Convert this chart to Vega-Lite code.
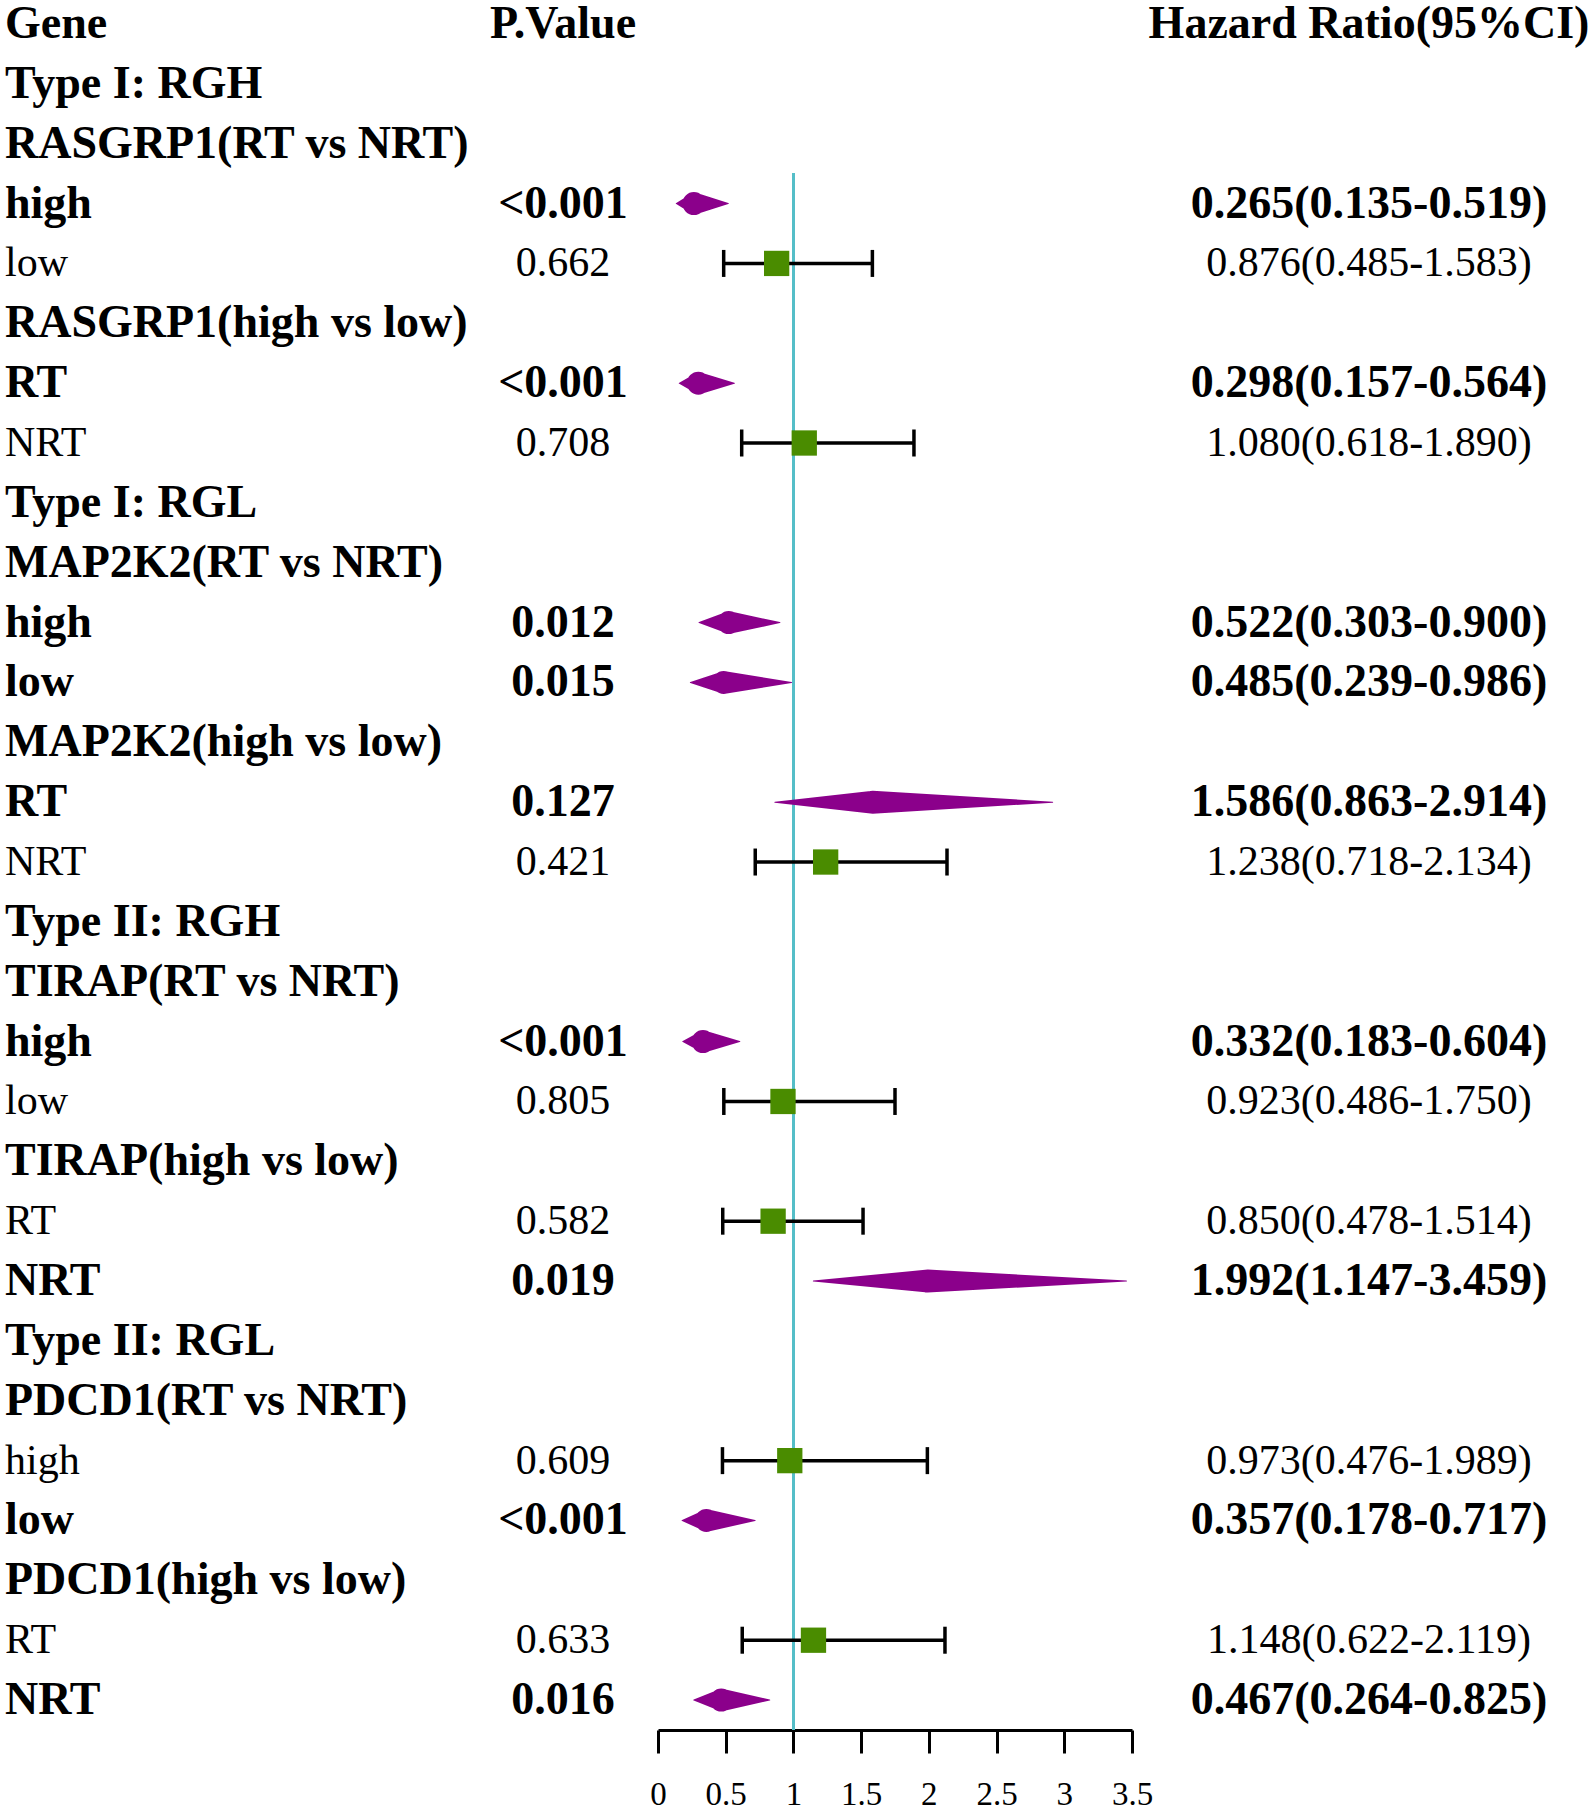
{
  "$schema": "https://vega.github.io/schema/vega-lite/v6.json",
  "padding": 0,
  "spacing": 0,
  "bounds": "flush",
  "background": "white",
  "config": {"view": {"stroke": null}, "font": "Liberation Serif"},
  "data": {"values": [
    {"row": 0, "gene": "Gene", "p": "P.Value", "hr": "Hazard Ratio(95%CI)", "kind": "header", "hl": true},
    {"row": 1, "gene": "Type I: RGH", "kind": "group", "hl": true},
    {"row": 2, "gene": "RASGRP1(RT vs NRT)", "kind": "gene", "hl": true},
    {"row": 3, "gene": "high", "p": "<0.001", "hr": "0.265(0.135-0.519)", "est": 0.265, "lo": 0.135, "hi": 0.519, "kind": "sub", "hl": true},
    {"row": 4, "gene": "low", "p": "0.662", "hr": "0.876(0.485-1.583)", "est": 0.876, "lo": 0.485, "hi": 1.583, "kind": "sub", "hl": false},
    {"row": 5, "gene": "RASGRP1(high vs low)", "kind": "gene", "hl": true},
    {"row": 6, "gene": "RT", "p": "<0.001", "hr": "0.298(0.157-0.564)", "est": 0.298, "lo": 0.157, "hi": 0.564, "kind": "sub", "hl": true},
    {"row": 7, "gene": "NRT", "p": "0.708", "hr": "1.080(0.618-1.890)", "est": 1.080, "lo": 0.618, "hi": 1.890, "kind": "sub", "hl": false},
    {"row": 8, "gene": "Type I: RGL", "kind": "group", "hl": true},
    {"row": 9, "gene": "MAP2K2(RT vs NRT)", "kind": "gene", "hl": true},
    {"row": 10, "gene": "high", "p": "0.012", "hr": "0.522(0.303-0.900)", "est": 0.522, "lo": 0.303, "hi": 0.900, "kind": "sub", "hl": true},
    {"row": 11, "gene": "low", "p": "0.015", "hr": "0.485(0.239-0.986)", "est": 0.485, "lo": 0.239, "hi": 0.986, "kind": "sub", "hl": true},
    {"row": 12, "gene": "MAP2K2(high vs low)", "kind": "gene", "hl": true},
    {"row": 13, "gene": "RT", "p": "0.127", "hr": "1.586(0.863-2.914)", "est": 1.586, "lo": 0.863, "hi": 2.914, "kind": "sub", "hl": true},
    {"row": 14, "gene": "NRT", "p": "0.421", "hr": "1.238(0.718-2.134)", "est": 1.238, "lo": 0.718, "hi": 2.134, "kind": "sub", "hl": false},
    {"row": 15, "gene": "Type II: RGH", "kind": "group", "hl": true},
    {"row": 16, "gene": "TIRAP(RT vs NRT)", "kind": "gene", "hl": true},
    {"row": 17, "gene": "high", "p": "<0.001", "hr": "0.332(0.183-0.604)", "est": 0.332, "lo": 0.183, "hi": 0.604, "kind": "sub", "hl": true},
    {"row": 18, "gene": "low", "p": "0.805", "hr": "0.923(0.486-1.750)", "est": 0.923, "lo": 0.486, "hi": 1.750, "kind": "sub", "hl": false},
    {"row": 19, "gene": "TIRAP(high vs low)", "kind": "gene", "hl": true},
    {"row": 20, "gene": "RT", "p": "0.582", "hr": "0.850(0.478-1.514)", "est": 0.850, "lo": 0.478, "hi": 1.514, "kind": "sub", "hl": false},
    {"row": 21, "gene": "NRT", "p": "0.019", "hr": "1.992(1.147-3.459)", "est": 1.992, "lo": 1.147, "hi": 3.459, "kind": "sub", "hl": true},
    {"row": 22, "gene": "Type II: RGL", "kind": "group", "hl": true},
    {"row": 23, "gene": "PDCD1(RT vs NRT)", "kind": "gene", "hl": true},
    {"row": 24, "gene": "high", "p": "0.609", "hr": "0.973(0.476-1.989)", "est": 0.973, "lo": 0.476, "hi": 1.989, "kind": "sub", "hl": false},
    {"row": 25, "gene": "low", "p": "<0.001", "hr": "0.357(0.178-0.717)", "est": 0.357, "lo": 0.178, "hi": 0.717, "kind": "sub", "hl": true},
    {"row": 26, "gene": "PDCD1(high vs low)", "kind": "gene", "hl": true},
    {"row": 27, "gene": "RT", "p": "0.633", "hr": "1.148(0.622-2.119)", "est": 1.148, "lo": 0.622, "hi": 2.119, "kind": "sub", "hl": false},
    {"row": 28, "gene": "NRT", "p": "0.016", "hr": "0.467(0.264-0.825)", "est": 0.467, "lo": 0.264, "hi": 0.825, "kind": "sub", "hl": true}
  ]},
  "hconcat": [
    {
      "width": 468, "height": 1729,
      "layer": [
        {
          "transform": [{"filter": "datum.hl"}],
          "mark": {"type": "text", "align": "left", "baseline": "middle", "fontWeight": "bold", "fontSize": 46, "dx": 5, "color": "black", "font": "Liberation Serif"},
          "encoding": {
            "x": {"datum": 0, "type": "quantitative", "scale": {"domain": [0, 1]}, "axis": null},
            "y": {"field": "row", "type": "quantitative", "scale": {"domain": [-0.384, 28.5], "reverse": true, "nice": false, "zero": false}, "axis": null},
            "text": {"field": "gene"}
          }
        },
        {
          "transform": [{"filter": "!datum.hl"}],
          "mark": {"type": "text", "align": "left", "baseline": "middle", "fontWeight": "normal", "fontSize": 42, "dx": 5, "color": "black", "font": "Liberation Serif"},
          "encoding": {
            "x": {"datum": 0, "type": "quantitative", "scale": {"domain": [0, 1]}, "axis": null},
            "y": {"field": "row", "type": "quantitative", "scale": {"domain": [-0.384, 28.5], "reverse": true, "nice": false, "zero": false}, "axis": null},
            "text": {"field": "gene"}
          }
        }
      ]
    },
    {
      "width": 190, "height": 1729,
      "layer": [
        {
          "transform": [{"filter": "isValid(datum.p) && datum.hl"}],
          "mark": {"type": "text", "align": "center", "baseline": "middle", "fontWeight": "bold", "fontSize": 46, "color": "black", "font": "Liberation Serif"},
          "encoding": {
            "x": {"datum": 0.5, "type": "quantitative", "scale": {"domain": [0, 1]}, "axis": null},
            "y": {"field": "row", "type": "quantitative", "scale": {"domain": [-0.384, 28.5], "reverse": true, "nice": false, "zero": false}, "axis": null},
            "text": {"field": "p"}
          }
        },
        {
          "transform": [{"filter": "isValid(datum.p) && !datum.hl"}],
          "mark": {"type": "text", "align": "center", "baseline": "middle", "fontWeight": "normal", "fontSize": 42, "color": "black", "font": "Liberation Serif"},
          "encoding": {
            "x": {"datum": 0.5, "type": "quantitative", "scale": {"domain": [0, 1]}, "axis": null},
            "y": {"field": "row", "type": "quantitative", "scale": {"domain": [-0.384, 28.5], "reverse": true, "nice": false, "zero": false}, "axis": null},
            "text": {"field": "p"}
          }
        }
      ]
    },
    {
      "width": 474, "height": 1729,
      "layer": [
        {
          "mark": {"type": "rule", "color": "#55BEC8", "strokeWidth": 2.5},
          "encoding": {
            "x": {"datum": 1, "type": "quantitative", "scale": {"domain": [0, 3.5], "nice": false, "zero": false},
              "axis": {"values": [0, 0.5, 1, 1.5, 2, 2.5, 3, 3.5], "format": "~g", "title": null, "grid": false,
                "domainColor": "black", "domainWidth": 3, "tickColor": "black", "tickWidth": 3, "tickSize": 23,
                "labelFont": "Liberation Serif", "labelFontSize": 33, "labelColor": "black", "labelPadding": 25,
                "labelFlush": false, "labelOverlap": false, "labelBound": false}},
            "y": {"datum": 2.5, "type": "quantitative", "scale": {"domain": [-0.384, 28.5], "reverse": true, "nice": false, "zero": false}, "axis": null},
            "y2": {"datum": 28.5}
          }
        },
        {
          "transform": [{"filter": "datum.kind == 'sub' && !datum.hl"}],
          "mark": {"type": "rule", "color": "black", "strokeWidth": 3.5},
          "encoding": {
            "x": {"field": "lo", "type": "quantitative"},
            "x2": {"field": "hi"},
            "y": {"field": "row", "type": "quantitative"}
          }
        },
        {
          "transform": [{"filter": "datum.kind == 'sub' && !datum.hl"}, {"fold": ["lo", "hi"], "as": ["end", "v"]}],
          "mark": {"type": "tick", "orient": "vertical", "color": "black", "thickness": 3.5, "size": 27, "opacity": 1},
          "encoding": {
            "x": {"field": "v", "type": "quantitative"},
            "y": {"field": "row", "type": "quantitative"}
          }
        },
        {
          "transform": [{"filter": "datum.kind == 'sub' && !datum.hl"}],
          "mark": {"type": "point", "shape": "square", "filled": true, "color": "#4A8C00", "size": 640, "opacity": 1},
          "encoding": {
            "x": {"field": "est", "type": "quantitative"},
            "y": {"field": "row", "type": "quantitative"}
          }
        },
        {
          "transform": [{"filter": "datum.kind == 'sub' && datum.hl"}, {"fold": ["lo", "est", "hi"], "as": ["key", "value"]}],
          "mark": {"type": "trail", "color": "#8B008B", "opacity": 1},
          "encoding": {
            "x": {"field": "value", "type": "quantitative"},
            "y": {"field": "row", "type": "quantitative"},
            "detail": {"field": "row", "type": "nominal"},
            "order": {"field": "value", "type": "quantitative"},
            "size": {"field": "key", "type": "nominal", "scale": {"type": "ordinal", "domain": ["lo", "est", "hi"], "range": [0, 23, 0]}, "legend": null}
          }
        }
      ]
    },
    {
      "width": 462, "height": 1729,
      "layer": [
        {
          "transform": [{"filter": "isValid(datum.hr) && datum.hl"}],
          "mark": {"type": "text", "align": "center", "baseline": "middle", "fontWeight": "bold", "fontSize": 46, "dx": 6, "color": "black", "font": "Liberation Serif"},
          "encoding": {
            "x": {"datum": 0.5, "type": "quantitative", "scale": {"domain": [0, 1]}, "axis": null},
            "y": {"field": "row", "type": "quantitative", "scale": {"domain": [-0.384, 28.5], "reverse": true, "nice": false, "zero": false}, "axis": null},
            "text": {"field": "hr"}
          }
        },
        {
          "transform": [{"filter": "isValid(datum.hr) && !datum.hl"}],
          "mark": {"type": "text", "align": "center", "baseline": "middle", "fontWeight": "normal", "fontSize": 42, "dx": 6, "color": "black", "font": "Liberation Serif"},
          "encoding": {
            "x": {"datum": 0.5, "type": "quantitative", "scale": {"domain": [0, 1]}, "axis": null},
            "y": {"field": "row", "type": "quantitative", "scale": {"domain": [-0.384, 28.5], "reverse": true, "nice": false, "zero": false}, "axis": null},
            "text": {"field": "hr"}
          }
        }
      ]
    }
  ]
}
